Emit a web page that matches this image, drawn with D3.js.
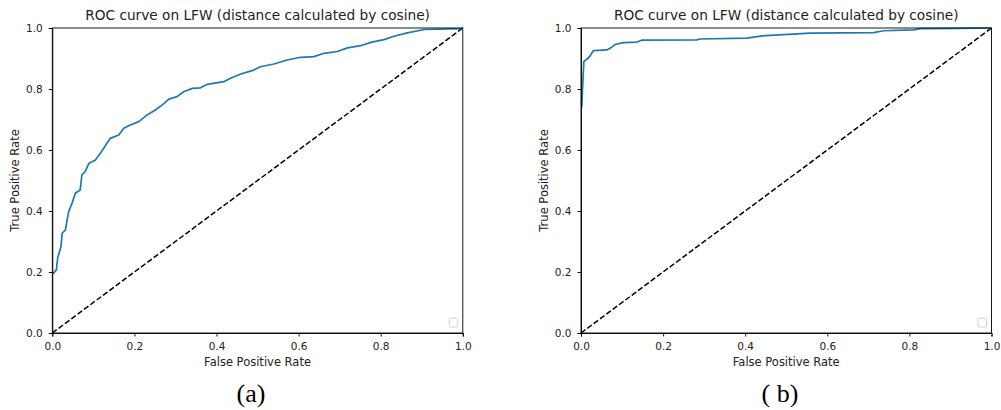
<!DOCTYPE html>
<html>
<head>
<meta charset="utf-8">
<script src="https://cdn.jsdelivr.net/npm/d3@7"></script>
<style>
  body { margin: 0; background: #fff; }
  svg { display: block; }
  .tick text { font-family: "DejaVu Sans", sans-serif; font-size: 10.5px; fill: #222; }
  .axis path, .axis line { stroke: #000; stroke-width: 0.9; }
</style>
</head>
<body>
<svg id="chart" width="1001" height="410"></svg>
<script>
// values
var titleText = "ROC curve on LFW (distance calculated by cosine)";
var xLabel = "False Positive Rate";
var yLabel = "True Positive Rate";
var tickValues = [0, 0.2, 0.4, 0.6, 0.8, 1.0];
var captions = ["(a)", "( b)"];

var fprA = [0, 0.003, 0.010, 0.013, 0.021, 0.024, 0.032, 0.036, 0.040, 0.048, 0.056, 0.068, 0.072,
  0.080, 0.089, 0.105, 0.117, 0.133, 0.141, 0.162, 0.174, 0.190, 0.211, 0.231, 0.251, 0.268,
  0.284, 0.304, 0.320, 0.341, 0.361, 0.377, 0.418, 0.434, 0.459, 0.491, 0.507, 0.540, 0.572,
  0.605, 0.637, 0.662, 0.694, 0.719, 0.751, 0.776, 0.808, 0.832, 0.865, 0.906, 0.995, 1.0];
var tprA = [0.196, 0.196, 0.207, 0.246, 0.283, 0.327, 0.338, 0.370, 0.398, 0.425, 0.458, 0.469, 0.518,
  0.529, 0.556, 0.567, 0.589, 0.622, 0.638, 0.649, 0.671, 0.682, 0.693, 0.715, 0.731, 0.748,
  0.767, 0.775, 0.791, 0.802, 0.804, 0.815, 0.824, 0.835, 0.849, 0.862, 0.873, 0.882, 0.895,
  0.904, 0.906, 0.917, 0.923, 0.935, 0.942, 0.953, 0.962, 0.973, 0.984, 0.995, 0.998, 1.0];

var fprB = [0, 0.002, 0.004, 0.007, 0.014, 0.022, 0.030, 0.063, 0.075, 0.083, 0.103, 0.136, 0.148,
  0.282, 0.290, 0.404, 0.441, 0.461, 0.559, 0.713, 0.737, 0.810, 0.827, 0.916, 1.0];
var tprB = [0.742, 0.742, 0.808, 0.890, 0.897, 0.908, 0.926, 0.928, 0.937, 0.946, 0.952, 0.954, 0.960,
  0.961, 0.964, 0.967, 0.974, 0.976, 0.983, 0.985, 0.991, 0.994, 0.998, 0.999, 1.0];

var svg = d3.select("#chart");
var plotTop = 28, plotHeight = 305, plotWidth = 410.5;

var panels = [
  {left: 52.3, fpr: fprA, tpr: tprA, caption: captions[0], capX: 251},
  {left: 581, fpr: fprB, tpr: tprB, caption: captions[1], capX: 780}
];

panels.forEach(function(p) {
  var x = d3.scaleLinear().domain([0, 1]).range([0, plotWidth]),
      y = d3.scaleLinear().domain([0, 1]).range([plotHeight, 0]);

  var g = svg.append("g")
    .attr("transform", "translate(" + p.left + "," + plotTop + ")");

  var data = p.fpr.map(function(d, i) { return {fpr: d, tpr: p.tpr[i]}; });

  // dashed chance line
  g.append("path")
    .attr("d", d3.line()([[x(0), y(0)], [x(1), y(1)]]))
    .attr("fill", "none")
    .attr("stroke", "#000")
    .attr("stroke-width", 1.5)
    .attr("stroke-dasharray", "5.5,2.4");

  // roc curve
  g.append("path")
    .datum(data)
    .attr("d", d3.line()
      .x(function(d) { return x(d.fpr); })
      .y(function(d) { return y(d.tpr); }))
    .attr("fill", "none")
    .attr("stroke", "#1f77b4")
    .attr("stroke-width", 1.7)
    .attr("stroke-linejoin", "round");

  // frame
  g.append("rect")
    .attr("width", plotWidth)
    .attr("height", plotHeight)
    .attr("fill", "none")
    .attr("stroke", "#000")
    .attr("stroke-width", 0.9);

  g.append("g")
    .attr("class", "axis axis--x")
    .attr("transform", "translate(0," + plotHeight + ")")
    .call(d3.axisBottom(x).tickValues(tickValues).tickFormat(d3.format(".1f")).tickSizeOuter(0).tickSize(3.5).tickPadding(6));

  g.append("g")
    .attr("class", "axis axis--y")
    .call(d3.axisLeft(y).tickValues(tickValues).tickFormat(d3.format(".1f")).tickSizeOuter(0).tickSize(3.5).tickPadding(6));

  // empty legend box
  g.append("rect")
    .attr("x", plotWidth - 13.5)
    .attr("y", plotHeight - 15)
    .attr("width", 8.5)
    .attr("height", 9)
    .attr("rx", 1.5)
    .attr("fill", "#fff")
    .attr("stroke", "#ccc")
    .attr("stroke-width", 0.9);

  g.append("text")
    .attr("x", plotWidth / 2)
    .attr("y", -8)
    .attr("text-anchor", "middle")
    .style("font-family", "'DejaVu Sans', sans-serif")
    .style("font-size", "13.7px")
    .style("fill", "#222")
    .text(titleText);

  g.append("text")
    .attr("x", plotWidth / 2)
    .attr("y", plotHeight + 33)
    .attr("text-anchor", "middle")
    .style("font-family", "'DejaVu Sans', sans-serif")
    .style("font-size", "11.5px")
    .style("fill", "#222")
    .text(xLabel);

  g.append("text")
    .attr("transform", "translate(-33.5," + (plotHeight / 2) + ") rotate(-90)")
    .attr("text-anchor", "middle")
    .style("font-family", "'DejaVu Sans', sans-serif")
    .style("font-size", "11.5px")
    .style("fill", "#222")
    .text(yLabel);

  svg.append("text")
    .attr("x", p.capX)
    .attr("y", 402)
    .attr("text-anchor", "middle")
    .style("font-family", "'Liberation Serif', serif")
    .style("font-size", "26px")
    .style("fill", "#000")
    .text(p.caption);
});
</script>
</body>
</html>
